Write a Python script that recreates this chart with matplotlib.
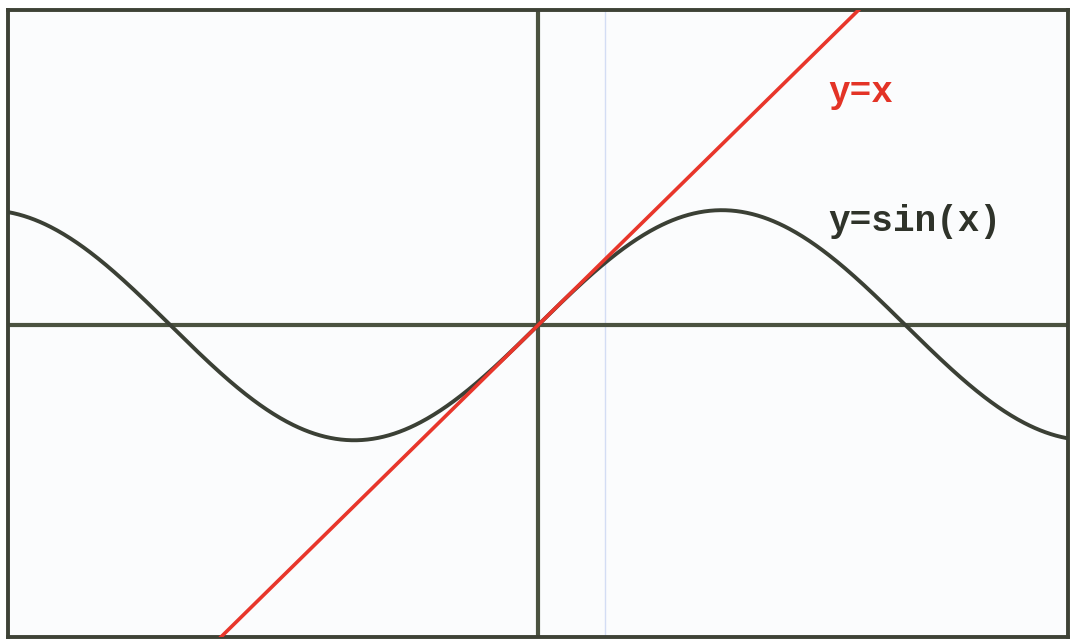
import numpy as np
import matplotlib
matplotlib.use("Agg")
import matplotlib.pyplot as plt

# view window (data units)
x_limits = [-4.53, 4.53]
y_limits = [-2.71, 2.74]

# curve labels and where they sit
labels = ["y=x", "y=sin(x)"]
label_x = [2.48, 2.48]
label_y = [2.02, 0.90]
label_colors = ["#e33326", "#2f332a"]

# faint scan line seen right of the y axis
scan_line_x = 0.575

x = np.linspace(x_limits[0], x_limits[1], 800)

fig = plt.figure(figsize=(10.70, 6.44), dpi=100)
fig.patch.set_facecolor("white")
ax = fig.add_axes([8 / 1070, 7 / 644, 1060 / 1070, 627 / 644])
ax.set_facecolor("#fbfcfd")

ax.axvline(scan_line_x, color="#d3ddf4", lw=1.0, zorder=1)

# coordinate axes
ax.axhline(0, color="#4b5240", lw=3.0, zorder=2)
ax.axvline(0, color="#4b5240", lw=3.0, zorder=2)

# curves
ax.plot(x, np.sin(x), color="#3b4035", lw=2.8, zorder=3)
ax.plot(x, x, color="#e8362b", lw=2.6, zorder=4)

for txt, lx, ly, c in zip(labels, label_x, label_y, label_colors):
    ax.text(lx, ly, txt, color=c, fontsize=26, fontweight="bold",
            family="Liberation Mono", ha="left", va="center", zorder=5)

ax.set_xlim(x_limits)
ax.set_ylim(y_limits)
ax.set_xticks([])
ax.set_yticks([])
for s in ax.spines.values():
    s.set_color("#3e4236")
    s.set_linewidth(2.8)

plt.savefig("out.png", dpi=100)
plt.close()
